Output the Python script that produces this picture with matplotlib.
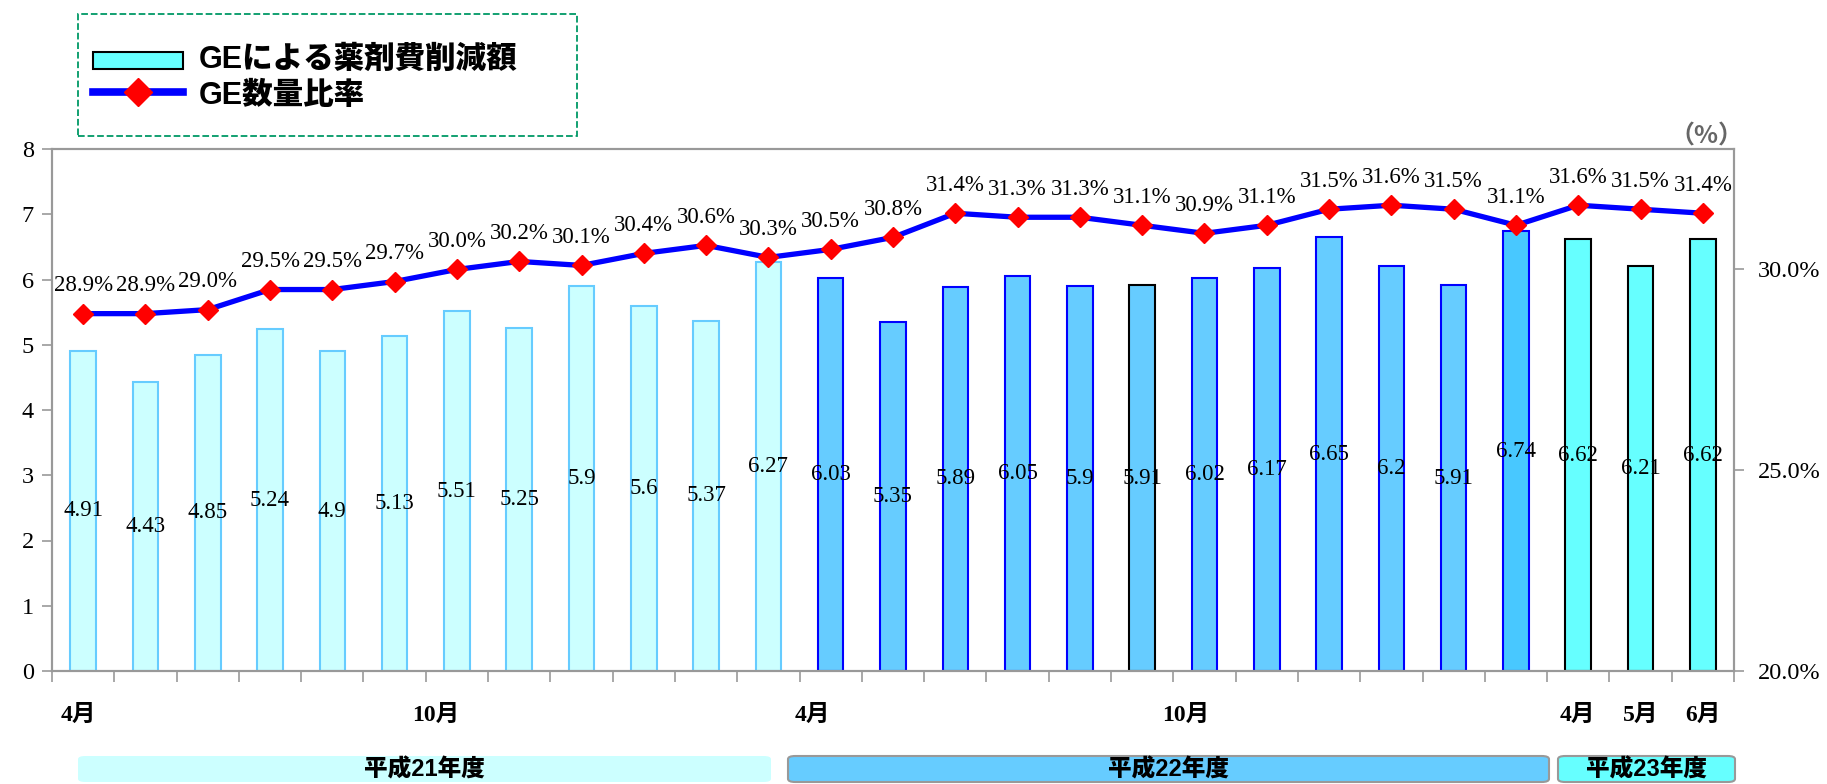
import numpy as np
import matplotlib
matplotlib.use('Agg')
import matplotlib.pyplot as plt
from matplotlib.patches import Rectangle, FancyBboxPatch
from matplotlib.lines import Line2D

# ── data ────────────────────────────────────────────────
fy21_savings = [4.91, 4.43, 4.85, 5.24, 4.9, 5.13, 5.51, 5.25, 5.9, 5.6, 5.37, 6.27]
fy22_savings = [6.03, 5.35, 5.89, 6.05, 5.9, 5.91, 6.02, 6.17, 6.65, 6.2, 5.91, 6.74]
fy23_savings = [6.62, 6.21, 6.62]

fy21_share = [28.9, 28.9, 29.0, 29.5, 29.5, 29.7, 30.0, 30.2, 30.1, 30.4, 30.6, 30.3]
fy22_share = [30.5, 30.8, 31.4, 31.3, 31.3, 31.1, 30.9, 31.1, 31.5, 31.6, 31.5, 31.1]
fy23_share = [31.6, 31.5, 31.4]

month_labels = ['4月', '10月', '4月', '10月', '4月', '5月', '6月']
month_label_pos = [-0.08, 5.66, 11.7, 17.7, 23.99, 25.0, 26.0]
year_labels = ['平成21年度', '平成22年度', '平成23年度']

savings = fy21_savings + fy22_savings + fy23_savings
share = fy21_share + fy22_share + fy23_share
x = np.arange(len(savings))

# ── styles ──────────────────────────────────────────────
SERIF = ['Liberation Serif', 'Noto Sans CJK JP']
GOTHIC = ['Liberation Sans', 'Noto Sans CJK JP']
plt.rcParams['font.family'] = SERIF

face = (['#CCFFFF'] * len(fy21_savings) + ['#66CCFF'] * len(fy22_savings)
        + ['#66FFFF'] * len(fy23_savings))
edge = (['#66CCFF'] * len(fy21_savings) + ['#0000FF'] * len(fy22_savings)
        + ['black'] * len(fy23_savings))
face[len(fy21_savings) + 11] = '#48C8FF'
edge[len(fy21_savings) + 5] = 'black'

W, H = 1827, 784
def fx(px):
    return px / W
def fy(py):
    return 1 - py / H

fig = plt.figure(figsize=(W / 100, H / 100), dpi=100)
ax = fig.add_axes([fx(52), fy(671), (1734 - 52) / W, (671 - 149) / H])
ax2 = ax.twinx()

# bars
ax.bar(x, savings, width=0.41, color=face, edgecolor=edge, linewidth=1.5, zorder=2)
for xi, v in zip(x, savings):
    ax.text(xi, v / 2, f'{v:g}', ha='center', va='center', fontsize=16.5,
            family=SERIF, zorder=3)

# line
ax2.plot(x, share, color='#0000FF', lw=3.8, marker='D', ms=10.5,
         mfc='#FF0000', mec='#FF0000', zorder=5)
for xi, v in zip(x, share):
    ax2.annotate(f'{v:.1f}%', (xi, v), xytext=(0, 16), textcoords='offset points',
                 ha='center', va='baseline', fontsize=16.5, family=SERIF)

# axes
ax.set_xlim(-0.5, len(x) - 0.5)
ax.set_ylim(0, 8)
ax.set_yticks(range(9))
ax2.set_ylim(20, 33)
ax2.set_yticks([20, 25, 30])
ax2.set_yticklabels([f'{t:.1f}%' for t in [20, 25, 30]])

ax.set_xticks(np.arange(-0.5, len(x)), [])
ax.set_xticks(month_label_pos, month_labels, minor=True)
ax.tick_params(axis='x', which='major', length=8, width=1.2, color='#999999')
ax.tick_params(axis='x', which='minor', length=0, pad=24, labelsize=17)
for t in ax.get_xticklabels(minor=True):
    t.set_fontweight('bold')
ax.tick_params(axis='y', length=7, width=1.2, color='#999999', labelsize=17.5, pad=6)
ax2.tick_params(axis='y', length=7, width=1.2, color='#999999', labelsize=17.5, pad=10)

for a in (ax, ax2):
    for s in a.spines.values():
        s.set_color('#999999')
        s.set_linewidth(1.5)

fig.text(fx(1706), fy(137), '（%）', ha='center', va='center', fontsize=18,
         fontweight='bold', color='#666666', family=['Noto Sans CJK JP'])

# legend box (drawn by hand to match the dashed frame)
fig.patches.append(Rectangle((fx(78), fy(136)), fx(577) - fx(78), fy(14) - fy(136),
                             transform=fig.transFigure, fill=False,
                             edgecolor='#009966', linestyle='--', linewidth=1.3))
fig.patches.append(Rectangle((fx(93), fy(69)), fx(183) - fx(93), fy(52) - fy(69),
                             transform=fig.transFigure, facecolor='#66FFFF',
                             edgecolor='black', linewidth=1.5))
fig.lines.append(Line2D([fx(93), fx(183)], [fy(92), fy(92)], transform=fig.transFigure,
                        color='#0000FF', lw=5.5))
fig.lines.append(Line2D([fx(138)], [fy(92)], transform=fig.transFigure, marker='D',
                        ms=14, mfc='#FF0000', mec='#FF0000', lw=0))
fig.text(fx(199), fy(60), 'GEによる薬剤費削減額', ha='left', va='center', fontsize=22,
         fontweight='black', family=GOTHIC)
fig.text(fx(199), fy(96), 'GE数量比率', ha='left', va='center', fontsize=22,
         fontweight='black', family=GOTHIC)

# fiscal year bands
bands = [(78, 771, '#CCFFFF', 'none'), (788, 1549, '#66CCFF', '#999999'),
         (1558, 1735, '#66FFFF', '#999999')]
for (x0, x1, fc, ec), lab in zip(bands, year_labels):
    fig.patches.append(FancyBboxPatch((fx(x0), fy(782)), fx(x1) - fx(x0), fy(756) - fy(782),
                                      boxstyle='round,pad=0,rounding_size=0.004',
                                      transform=fig.transFigure, facecolor=fc,
                                      edgecolor=ec, linewidth=1.5))
    fig.text(fx((x0 + x1) / 2), fy(770), lab, ha='center', va='center', fontsize=17,
             fontweight='black', family=GOTHIC)

fig.savefig('out.png', dpi=100)
